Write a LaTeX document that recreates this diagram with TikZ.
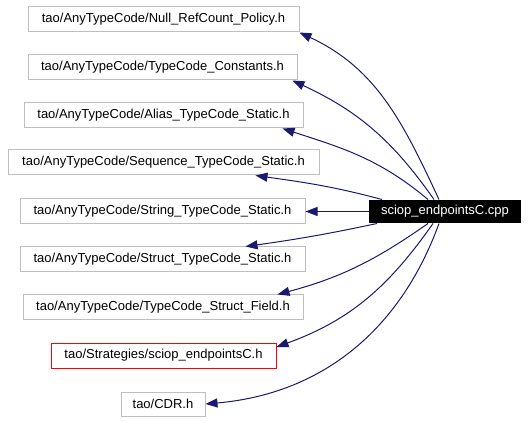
\documentclass[tikz,border=0pt]{standalone}
\usepackage{fontspec}
\setmainfont{Liberation Sans}
\usetikzlibrary{arrows.meta}
\definecolor{edgeblue}{HTML}{191970}
\definecolor{boxgray}{HTML}{BFBFBF}

\begin{document}
\begin{tikzpicture}[x=1pt, y=1pt, line width=1pt,
  hdr/.style={draw=boxgray, minimum height=25pt, inner sep=0pt, font=\fontsize{13}{15}\selectfont},
  dep/.style={draw=edgeblue, -{Triangle[length=12pt,width=9pt]}}]
\useasboundingbox (0,0) rectangle (528,421);
\node (n1) at (163.5,401.5) [hdr, minimum width=271pt] {tao/AnyTypeCode/Null\_RefCount\_Policy.h};
\node (n2) at (162.5,353.5) [hdr, minimum width=269pt] {tao/AnyTypeCode/TypeCode\_Constants.h};
\node (n3) at (163.5,305.5) [hdr, minimum width=279pt] {tao/AnyTypeCode/Alias\_TypeCode\_Static.h};
\node (n4) at (163.5,258.5) [hdr, minimum width=311pt] {tao/AnyTypeCode/Sequence\_TypeCode\_Static.h};
\node (n5) at (162.5,209.5) [hdr, minimum width=285pt] {tao/AnyTypeCode/String\_TypeCode\_Static.h};
\node (n6) at (162.5,161.5) [hdr, minimum width=285pt] {tao/AnyTypeCode/Struct\_TypeCode\_Static.h};
\node (n7) at (163,113.5) [hdr, minimum width=280pt] {tao/AnyTypeCode/TypeCode\_Struct\_Field.h};
\node (n8) at (163.5,65.5) [hdr, draw=red, minimum width=225pt] {tao/Strategies/sciop\_endpointsC.h};
\node (n9) at (163,17) [hdr, minimum width=84pt, minimum height=24pt] {tao/CDR.h};
\node (src) at (445,209.5) [hdr, draw=none, fill=black, text=white, minimum width=152pt, minimum height=23pt] {sciop\_endpointsC.cpp};

% dependencies
\draw[dep] ([xshift=-6pt]src.north) to[out=115,in=-25] (n1.south east);
\draw[dep] ([xshift=-11pt]src.north) to[out=125,in=-25] ([xshift=-5pt]n2.south east);
\draw[dep] ([xshift=-17pt]src.north) to[out=140,in=-18] ([xshift=-21pt]n3.south east);
\draw[dep] ([xshift=-63pt]src.north) to[out=165,in=-8] ([xshift=-64pt]n4.south east);
\draw[dep] (src.west) -- (n5.east);
\draw[dep] ([xshift=-68pt]src.south) to[out=192,in=8] ([xshift=-60pt]n6.north east);
\draw[dep] ([xshift=-17pt]src.south) to[out=215,in=15] ([xshift=-26pt]n7.north east);
\draw[dep] ([xshift=-12pt]src.south) to[out=235,in=20] ([yshift=8.5pt]n8.east);
\draw[dep] ([xshift=-6pt]src.south) to[out=250,in=5] (n9.east);
\end{tikzpicture}
\end{document}
